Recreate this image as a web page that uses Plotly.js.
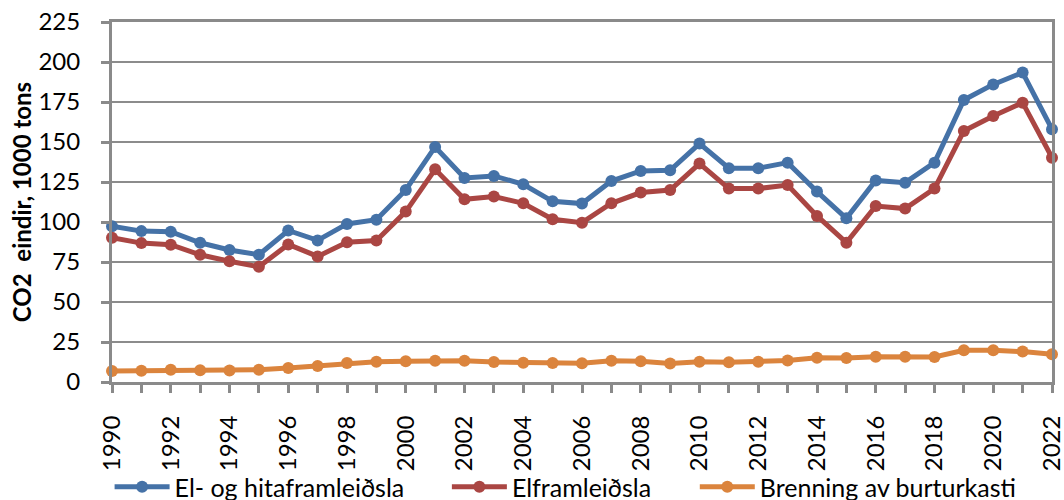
<!DOCTYPE html>
<html>
<head>
<meta charset="utf-8">
<script src="https://cdn.plot.ly/plotly-3.0.1.min.js"></script>
<style>html,body{margin:0;padding:0;background:#fff;}#chart{width:1064px;height:500px;}</style>
</head>
<body>
<div id="chart"></div>
<script>
const years = [1990,1991,1992,1993,1994,1995,1996,1997,1998,1999,2000,2001,2002,2003,2004,2005,2006,2007,2008,2009,2010,2011,2012,2013,2014,2015,2016,2017,2018,2019,2020,2021,2022];
const elOgHiti = [97.4,94.3,93.9,87,82.5,79.5,94.7,88.5,98.8,101.4,120,146.9,127.5,128.8,123.6,112.9,111.5,125.6,131.9,132.3,149,133.6,133.6,137.1,119,102.3,126,124.6,137.1,176.3,186,193.4,158];
const elframleidsla = [90.2,86.8,85.8,79.5,75.5,72,86,78.5,87.3,88.4,106.5,132.9,114.2,115.9,111.7,101.7,99.6,111.7,118.4,120,136.5,120.9,120.9,123.1,103.8,87.1,110,108.4,120.9,156.9,166.3,174.6,140.2];
const brenning = [6.9,7,7.6,7.4,7.2,7.6,8.7,10,11.9,12.7,13,13.3,13.3,12.5,12.1,11.9,11.7,13.3,12.9,11.5,12.7,12.3,12.7,13.5,15.2,15,15.8,15.8,15.6,19.8,19.8,19,17.3];
const seriesNames = ["El- og hitaframleiðsla","Elframleiðsla","Brenning av burturkasti"];
const colors = ["#4572A7","#AA4643","#DB843D"];
const tickLabels = years.map(y => (y % 2 === 0 ? String(y) : ""));
const yTitle = "CO2  eindir, 1000 tons";

const font = "Lato, 'Open Sans', sans-serif";
const seriesData = [elOgHiti, elframleidsla, brenning];
const legendIds = ["legend", "legend2", "legend3"];
const legendX = [0.103, 0.420, 0.653];
const traces = seriesData.map((vals, i) => ({
  x: years, y: vals, name: seriesNames[i], type: "scatter", mode: "lines+markers",
  line: {color: colors[i], width: 5},
  marker: {color: colors[i], size: 12},
  cliponaxis: false,
  legend: legendIds[i]
}));

const layout = {
  width: 1064, height: 500,
  margin: {l: 112, r: 12, t: 22, b: 118},
  paper_bgcolor: "#fff", plot_bgcolor: "#fff",
  font: {family: font, color: "#000"},
  showlegend: true,
  xaxis: {
    range: [1990, 2022], tickvals: years, ticktext: tickLabels, tickangle: -90,
    tickfont: {size: 24, family: font}, ticks: "outside", ticklen: 8, tickwidth: 3, tickcolor: "#8a8a8a",
    ticklabelstandoff: 13, ticklabeloverflow: "allow", automargin: false,
    showline: true, linecolor: "#8a8a8a", linewidth: 3, mirror: true,
    showgrid: false, zeroline: false, fixedrange: true
  },
  yaxis: {
    range: [0, 225], dtick: 25, tick0: 0, automargin: false,
    tickfont: {size: 24, family: font}, ticks: "outside", ticklen: 8, tickwidth: 3, tickcolor: "#8a8a8a",
    ticklabelstandoff: 16, ticklabeloverflow: "allow",
    showline: true, linecolor: "#8a8a8a", linewidth: 3, mirror: true,
    showgrid: true, gridcolor: "#8c8c8c", gridwidth: 2, zeroline: false,
    title: {text: yTitle, font: {size: 24, family: font, weight: "bold"}, standoff: 1}
  }
};
legendIds.forEach((id, i) => {
  layout[id] = {orientation: "h", xref: "container", yref: "container", x: legendX[i], xanchor: "left",
                y: 0.026, yanchor: "middle", font: {size: 25, family: font}, itemwidth: 55,
                bgcolor: "rgba(0,0,0,0)"};
});
Plotly.newPlot("chart", traces, layout, {displayModeBar: false, staticPlot: true});
</script>
</body>
</html>
